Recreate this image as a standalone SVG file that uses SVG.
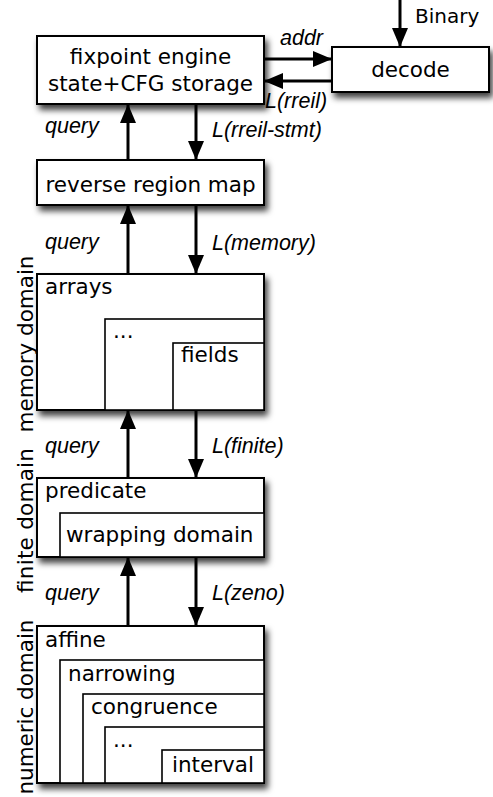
<svg xmlns="http://www.w3.org/2000/svg" width="493" height="797" viewBox="0 0 493 797">
<style>
.box{fill:#fff;stroke:#000;stroke-width:2}
.shadow{filter:url(#sh)}
.inner{fill:#fff;stroke:#000;stroke-width:1.6}
.t{font-family:"DejaVu Sans",Verdana,sans-serif;font-size:21.5px;fill:#000}
.c{text-anchor:middle}
.lab{font-family:"Liberation Sans",Arial,sans-serif;font-style:italic;font-size:21.5px;fill:#000}
.arr{stroke:#000;stroke-width:3;fill:none;marker-end:url(#ah)}
</style>
<defs>
<filter id="sh" x="-20%" y="-20%" width="150%" height="150%">
<feDropShadow dx="3" dy="5" stdDeviation="3" flood-color="#000" flood-opacity="0.75"/>
</filter>
<marker id="ah" markerUnits="userSpaceOnUse" markerWidth="19" markerHeight="16" refX="19" refY="8" orient="auto">
<path d="M0,0 L19,8 L0,16 Z" fill="#000"/>
</marker>
</defs>
<rect width="493" height="797" fill="#fff"/>

<g id="fixpoint">
<rect class="box shadow" x="37" y="36" width="227" height="68"/>
<text class="t c" x="150.5" y="64">fixpoint engine</text>
<text class="t c" x="150.5" y="91">state+CFG storage</text>
</g>

<g id="decode">
<rect class="box shadow" x="332" y="47" width="157" height="45"/>
<text class="t c" x="410.5" y="77">decode</text>
</g>

<g id="binary">
<text class="t" x="415" y="23" style="font-size:20px">Binary</text>
</g>

<g id="region-map">
<rect class="box shadow" x="37" y="160" width="227" height="45"/>
<text class="t c" x="150.5" y="192">reverse region map</text>
</g>

<g id="memory">
<rect class="box shadow" x="37" y="274" width="227" height="136"/>
<rect class="inner" x="105" y="319" width="159" height="91"/>
<rect class="inner" x="173" y="343" width="91" height="67"/>
<text class="t" x="45" y="294">arrays</text>
<text class="t" x="113" y="338">...</text>
<text class="t" x="181" y="362">fields</text>
<text class="t c" transform="translate(33,344) rotate(-90)" textLength="177">memory domain</text>
</g>

<g id="finite">
<rect class="box shadow" x="37" y="478" width="227" height="79"/>
<rect class="inner" x="60" y="513" width="204" height="44"/>
<text class="t" x="45" y="498">predicate</text>
<text class="t" x="66" y="542">wrapping domain</text>
<text class="t c" transform="translate(33,520.5) rotate(-90)" textLength="145">finite domain</text>
</g>

<g id="numeric">
<rect class="box shadow" x="37" y="626" width="227" height="157"/>
<rect class="inner" x="60" y="660" width="204" height="123"/>
<rect class="inner" x="83" y="694" width="181" height="89"/>
<rect class="inner" x="105" y="727" width="159" height="56"/>
<rect class="inner" x="162" y="750" width="102" height="33"/>
<text class="t" x="45" y="647">affine</text>
<text class="t" x="68" y="681">narrowing</text>
<text class="t" x="91" y="714">congruence</text>
<text class="t" x="113" y="747">...</text>
<text class="t" x="172" y="772">interval</text>
<text class="t c" transform="translate(33,707) rotate(-90)" textLength="175">numeric domain</text>
</g>

<g id="connectors">
<line class="arr" x1="400" y1="0" x2="400" y2="47"/>
<line class="arr" x1="264" y1="59" x2="332" y2="59"/>
<line class="arr" x1="332" y1="81" x2="264" y2="81"/>
<line class="arr" x1="196" y1="104" x2="196" y2="160"/>
<line class="arr" x1="128" y1="160" x2="128" y2="104"/>
<line class="arr" x1="196" y1="205" x2="196" y2="274"/>
<line class="arr" x1="128" y1="274" x2="128" y2="205"/>
<line class="arr" x1="196" y1="410" x2="196" y2="478"/>
<line class="arr" x1="128" y1="478" x2="128" y2="410"/>
<line class="arr" x1="196" y1="557" x2="196" y2="626"/>
<line class="arr" x1="128" y1="626" x2="128" y2="557"/>
<text class="lab" x="280" y="45">addr</text>
<text class="lab" x="265" y="108">L(rreil)</text>
<text class="lab" x="45" y="133">query</text>
<text class="lab" x="212" y="137">L(rreil-stmt)</text>
<text class="lab" x="45" y="249">query</text>
<text class="lab" x="212" y="250">L(memory)</text>
<text class="lab" x="45" y="453">query</text>
<text class="lab" x="212" y="453">L(finite)</text>
<text class="lab" x="45" y="600">query</text>
<text class="lab" x="212" y="600">L(zeno)</text>
</g>
</svg>
